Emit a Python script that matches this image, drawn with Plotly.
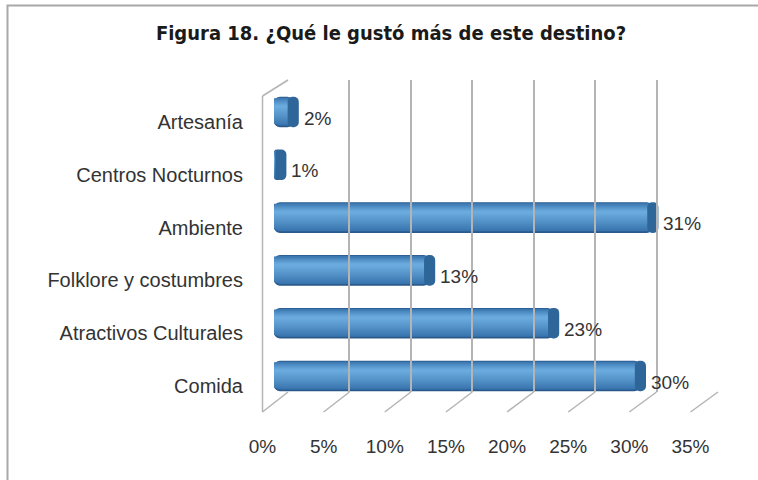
import plotly.graph_objects as go

# ---------------- data ----------------
categories = ["Artesanía", "Centros Nocturnos", "Ambiente",
              "Folklore y costumbres", "Atractivos Culturales", "Comida"]
values = [2, 1, 31, 13, 23, 30]          # percent
tick_vals = [0, 5, 10, 15, 20, 25, 30, 35]
tick_text = ["0%", "5%", "10%", "15%", "20%", "25%", "30%", "35%"]
title_text = "Figura 18. ¿Qué le gustó más de este destino?"

W, H = 758, 480
def px(x):  # pixel -> paper x
    return x / W
def py(y):  # pixel -> paper y
    return 1 - y / H

TXT = "#333333"
FONT = "Liberation Sans, Arial, sans-serif"

fig = go.Figure()

# ---------- cylinder-like bars (layered shading) ----------
cap = 0.9  # length of end cap in axis units
body_len = [v - cap / 2 for v in values]

def mix(c1, c2, t):
    a = [int(c1[i:i + 2], 16) for i in (1, 3, 5)]
    b = [int(c2[i:i + 2], 16) for i in (1, 3, 5)]
    return "#" + "".join(f"{round(a[i] + (b[i] - a[i]) * t):02x}" for i in range(3))

half = 0.29
hl = -0.10          # highlight position (negative = up)
N = 12
for k in range(N):
    t = k / (N - 1)
    top = -half + (hl - 0.03 + half) * t
    bot = half + (hl + 0.03 - half) * t
    if k == 0:
        col = "#2a5a8b"
    else:
        col = mix("#336ea9", "#6aaadd", (k / (N - 1)) ** 0.9)
    fig.add_trace(go.Bar(
        y=categories, x=[-b for b in body_len], base=body_len,
        orientation="h", width=bot - top, offset=top,
        marker=dict(color=col, line=dict(width=0),
                    cornerradius=6 if k < 2 else 0),
        hoverinfo="skip", showlegend=False, xaxis="x", yaxis="y"))

# end cap
fig.add_trace(go.Bar(
    y=categories, x=[cap] * len(values), base=[v - cap for v in values],
    orientation="h", width=0.58, offset=-0.29,
    marker=dict(color="#2f6699", line=dict(width=0), cornerradius="40%"),
    hoverinfo="skip", showlegend=False, xaxis="x", yaxis="y"))

# hidden trace to materialise back-wall grid axis
fig.add_trace(go.Scatter(x=values, y=categories, mode="markers",
                         marker=dict(opacity=0), hoverinfo="skip",
                         showlegend=False, xaxis="x2", yaxis="y2"))
# hidden trace to materialise front tick-label axis
fig.add_trace(go.Scatter(x=values, y=categories, mode="markers",
                         marker=dict(opacity=0), hoverinfo="skip",
                         showlegend=False, xaxis="x3", yaxis="y3"))

# value labels
for c, v in zip(categories, values):
    fig.add_annotation(x=v, y=c, xref="x", yref="y", text=f"{v}%",
                       showarrow=False, xanchor="left", yanchor="middle",
                       xshift=3, yshift=-6,
                       font=dict(family=FONT, size=19, color=TXT))

# ---------- geometry of the pseudo-3D frame ----------
back_x0, back_x35 = 288, 718      # back wall 0% .. 35%
front_x0, front_x35 = 262.5, 690.5  # front edge 0% .. 35%
back_top, back_bot = 80, 392
front_bot, front_top = 412, 96

shapes = []
grid_col = "#b4b4b4"
for t in tick_vals:
    bx = back_x0 + (back_x35 - back_x0) * t / 35
    fx = front_x0 + (front_x35 - front_x0) * t / 35
    shapes.append(dict(type="line", xref="paper", yref="paper",
                       x0=px(bx), y0=py(back_bot), x1=px(fx), y1=py(front_bot),
                       line=dict(color=grid_col, width=1.5)))
# left wall
shapes.append(dict(type="line", xref="paper", yref="paper",
                   x0=px(front_x0), y0=py(front_bot), x1=px(front_x0), y1=py(front_top),
                   line=dict(color=grid_col, width=1.5)))
shapes.append(dict(type="line", xref="paper", yref="paper",
                   x0=px(front_x0), y0=py(front_top), x1=px(back_x0), y1=py(back_top),
                   line=dict(color=grid_col, width=1.5)))
# outer chart frame
shapes.append(dict(type="rect", xref="paper", yref="paper",
                   x0=px(7.5), y0=py(5.5), x1=px(820), y1=py(540),
                   line=dict(color="#a8a8a8", width=2), layer="below"))

bar_x0, bar_scale = 274, 12.4
y_top, y_bot = 85.6, 402.4

fig.update_layout(
    width=W, height=H, autosize=False,
    margin=dict(l=0, r=0, t=0, b=0, pad=0),
    paper_bgcolor="white", plot_bgcolor="rgba(0,0,0,0)",
    barmode="overlay",
    showlegend=False,
    shapes=shapes,
    title=dict(text=title_text, x=px(391), xanchor="center",
               y=py(33), yanchor="middle", xref="paper", yref="paper",
               font=dict(family="DejaVu Sans Condensed, Liberation Sans Narrow, Arial Narrow, sans-serif",
                         size=20, color="#1a1a1a", weight="bold")),
    xaxis=dict(domain=[px(bar_x0), px(bar_x0 + 35 * bar_scale)], range=[0, 35],
               showgrid=False, zeroline=False, showticklabels=False,
               showline=False, fixedrange=True, automargin=False),
    yaxis=dict(domain=[py(y_bot), py(y_top)], range=[5.5, -0.5],
               type="category", categoryorder="array", categoryarray=categories,
               showgrid=False, zeroline=False, showline=False, ticks="",
               ticklabelstandoff=30, ticklabelshift=-10, automargin=False,
               tickfont=dict(family=FONT, size=20, color=TXT), fixedrange=True),
    xaxis2=dict(domain=[px(back_x0), px(back_x35)], range=[0, 35],
                tickvals=tick_vals, showgrid=True, gridcolor=grid_col, gridwidth=1.5,
                zeroline=False, showticklabels=False, showline=False,
                anchor="y2", fixedrange=True, automargin=False),
    yaxis2=dict(domain=[py(back_bot), py(back_top)], range=[5.5, -0.5],
                type="category", categoryorder="array", categoryarray=categories,
                showgrid=False, zeroline=False, showticklabels=False,
                showline=False, anchor="x2", fixedrange=True, automargin=False),
    xaxis3=dict(domain=[px(front_x0), px(front_x35)], range=[0, 35],
                tickvals=tick_vals, ticktext=tick_text, showgrid=False,
                zeroline=False, showline=False, ticks="",
                tickfont=dict(family=FONT, size=19, color=TXT),
                anchor="y3", fixedrange=True, automargin=False),
    yaxis3=dict(domain=[py(433), py(421)], range=[5.5, -0.5],
                type="category", categoryorder="array", categoryarray=categories,
                showgrid=False, zeroline=False, showticklabels=False,
                showline=False, anchor="x3", fixedrange=True, automargin=False),
)

fig.write_html("out.html", config={"responsive": False, "displayModeBar": False},
               post_script="document.body.style.margin='0';")
